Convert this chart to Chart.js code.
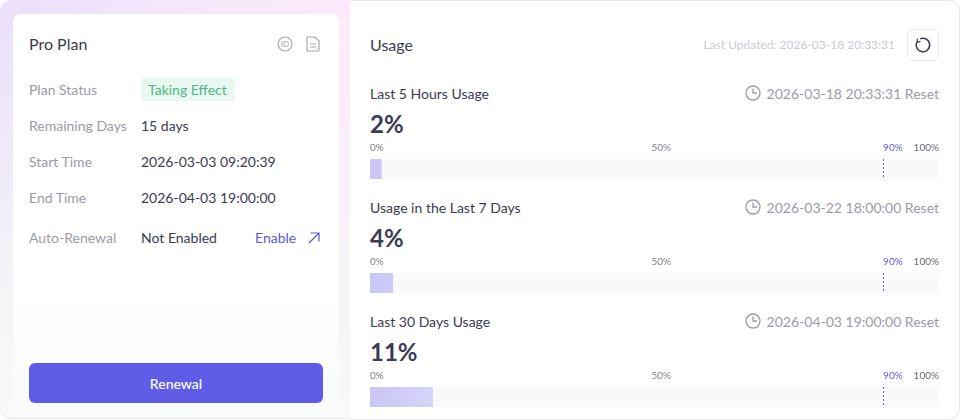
<!DOCTYPE html>
<html>
<head>
<meta charset="utf-8">
<title>Usage</title>
<script src="https://cdn.jsdelivr.net/npm/chart.js@4/dist/chart.umd.min.js"></script>
<style>
html, body { margin: 0; padding: 0; background: #fff; }
body { width: 960px; height: 420px; overflow: hidden; position: relative; font-family: Lato, sans-serif; color: #3b3b52; }
.abs { position: absolute; white-space: nowrap; line-height: 20px; }
#leftBg { position: absolute; left: 0; top: 0; width: 360px; height: 419px; border-radius: 12px; box-sizing: border-box; border-bottom: 1px solid #e9e9eb;
  background: linear-gradient(180deg, rgba(248,248,249,0) 0%, rgba(246,246,248,0.55) 45%, rgba(246,246,247,1) 75%, #f9f9f9 100%), linear-gradient(90deg, #ebdffb 0%, #f5e6fb 50%, #fee9fb 100%); }
#card { position: absolute; left: 13px; top: 14px; width: 326px; height: 404px; border-radius: 8px;
  background: linear-gradient(180deg, #fff 0%, #fff 68%, #fafafb 100%); }
#panel { position: absolute; left: 350px; top: 0; width: 609px; height: 418px; background: #fff; border: 1px solid #e9e9eb; border-left: 0; border-radius: 0 12px 12px 0; }
.lbl { font-size: 14px; color: #9b9ba8; }
.val { font-size: 14px; color: #3b3b52; }
#badge { position: absolute; left: 141px; top: 78px; width: 94px; height: 23px; background: #e8f8f0; border-radius: 4px; }
#renew { position: absolute; left: 29px; top: 363px; width: 294px; height: 40px; border-radius: 6px; background: #5f5ce8; color: #fff; font-size: 14px; font-weight: 500; line-height: 41px; text-align: center; }
#refresh { position: absolute; left: 907px; top: 29px; width: 30px; height: 30px; border: 1px solid #ececee; border-radius: 6px; }
.chartBox { position: absolute; left: 360px; width: 590px; height: 40px; }
svg { position: absolute; overflow: visible; }
</style>
</head>
<body>
<div id="leftBg"></div>
<div id="card"></div>
<div id="panel"></div>

<div class="abs" style="left:29px;top:34px;font-size:16px;color:#3b3b52">Pro Plan</div>
<svg style="left:277px;top:36px" width="16" height="16" viewBox="0 0 16 16" fill="none" stroke="#a5a5b0" stroke-width="1.2"><circle cx="8" cy="8" r="7"/><text x="8" y="11" text-anchor="middle" font-size="8" stroke="none" fill="#a5a5b0" font-family="Lato">ID</text></svg>
<svg style="left:306px;top:36px" width="14" height="16" viewBox="0 0 14 16" fill="none" stroke="#a5a5b0" stroke-width="1.2"><path d="M1 2 Q1 1 2 1 H9 L13 5 V14 Q13 15 12 15 H2 Q1 15 1 14 Z"/><path d="M4 8 H10 M4 11 H10"/></svg>

<div class="abs lbl" style="left:29px;top:80px">Plan Status</div>
<div id="badge"></div>
<div class="abs" style="left:148px;top:80px;font-size:14px;color:#52b587">Taking Effect</div>
<div class="abs lbl" style="left:29px;top:116px">Remaining Days</div>
<div class="abs val" style="left:141px;top:116px">15 days</div>
<div class="abs lbl" style="left:29px;top:152px">Start Time</div>
<div class="abs val" style="left:141px;top:152px">2026-03-03 09:20:39</div>
<div class="abs lbl" style="left:29px;top:188px">End Time</div>
<div class="abs val" style="left:141px;top:188px">2026-04-03 19:00:00</div>
<div class="abs lbl" style="left:29px;top:228px">Auto-Renewal</div>
<div class="abs val" style="left:141px;top:228px">Not Enabled</div>
<div class="abs" style="left:255px;top:228px;font-size:14px;color:#5b5bd6">Enable</div>
<svg style="left:308px;top:232px" width="12" height="12" viewBox="0 0 12 12" fill="none" stroke="#5b5bd6" stroke-width="1.2"><path d="M1 11 L11 1 M2.5 1 H11 V9.5"/></svg>
<div id="renew">Renewal</div>

<div class="abs" style="left:370px;top:35px;font-size:16px;color:#3b3b52">Usage</div>
<div class="abs" id="updated" style="right:65px;top:35px;font-size:12px;color:#cbcbd3">Last Updated: 2026-03-18 20:33:31</div>
<div id="refresh"></div>
<svg style="left:915px;top:37px" width="16" height="16" viewBox="0 0 16 16" fill="none" stroke="#3b3b52" stroke-width="1.5"><path d="M5.2 1.9 A6.7 6.7 0 1 1 2.2 4.6"/><path d="M2.2 1.6 L2.4 4.9 L5.4 4.6" stroke-width="1.2"/></svg>

<div id="rows"></div>

<script>
// values
var usageTitles = ["Last 5 Hours Usage", "Usage in the Last 7 Days", "Last 30 Days Usage"];
var usageValues = [2, 4, 11];
var resetTimes = ["2026-03-18 20:33:31", "2026-03-22 18:00:00", "2026-04-03 19:00:00"];
var percentTicks = [0, 50, 90, 100];
var warnLevel = 90;
var trackValue = 100;

var warnColor = '#5b5bd6';

// Tick labels are placed one by one, the axis option can only align them all the same way.
var tickLabelsPlugin = {
    id: 'tickLabels',
    afterDraw: function (chart) {
        var ctx = chart.ctx;
        var scale = chart.scales.x;
        ctx.save();
        ctx.font = '10px Lato';
        ctx.textBaseline = 'middle';
        scale.ticks.forEach(function (tick) {
            var x = scale.getPixelForValue(tick.value);
            ctx.textAlign = 'left';
            ctx.fillStyle = '#82828e';
            if (tick.value === 100) {
                ctx.textAlign = 'right';
                ctx.fillStyle = '#6a6a78';
            } else if (tick.value === 50) {
                x = x - 3;
            } else if (tick.value === warnLevel) {
                x = x + 1;
                ctx.fillStyle = warnColor;
            }
            ctx.fillText(tick.label, x, 7.5);
        });
        ctx.restore();
    },
    afterDatasetsDraw: function (chart) {
        var ctx = chart.ctx;
        var x = Math.round(chart.scales.x.getPixelForValue(warnLevel)) + 1.5;
        ctx.save();
        ctx.strokeStyle = warnColor;
        ctx.lineWidth = 1;
        ctx.setLineDash([2, 2]);
        ctx.beginPath();
        ctx.moveTo(x, chart.chartArea.top);
        ctx.lineTo(x, chart.chartArea.bottom);
        ctx.stroke();
        ctx.restore();
    }
};

function BuildUsageChart(canvas, value) {
    var ctx = canvas.getContext('2d');
    var fill = ctx.createLinearGradient(10, 0, 80, 0);
    fill.addColorStop(0, '#c9c5f5');
    fill.addColorStop(1, '#d8d5fb');
    return new Chart(ctx, {
        type: 'bar',
        data: {
            labels: [''],
            datasets: [
                { data: [value], backgroundColor: fill, borderRadius: { topLeft: 3, bottomLeft: 3 }, borderSkipped: false, order: 1 },
                { data: [trackValue], backgroundColor: '#f9f9fa', order: 2 }
            ]
        },
        options: {
            indexAxis: 'y',
            responsive: false,
            animation: false,
            events: [],
            layout: { padding: { left: 10, right: 11, top: 19, bottom: 1 } },
            plugins: { legend: { display: false }, tooltip: { enabled: false } },
            datasets: { bar: { grouped: false, categoryPercentage: 1, barPercentage: 1 } },
            scales: {
                x: {
                    min: 0,
                    max: 100,
                    display: true,
                    grid: { display: false, drawTicks: false },
                    border: { display: false },
                    afterBuildTicks: function (axis) {
                        axis.ticks = percentTicks.map(function (v) { return { value: v }; });
                    },
                    afterFit: function (axis) { axis.height = 0; },
                    ticks: {
                        display: false,
                        callback: function (v) { return v + '%'; }
                    }
                },
                y: { display: false }
            }
        },
        plugins: [tickLabelsPlugin]
    });
}

var rows = document.getElementById('rows');
usageTitles.forEach(function (title, i) {
    var top = 114 * i;
    var row = document.createElement('div');
    row.innerHTML =
        '<div class="abs" style="left:370px;top:' + (84 + top) + 'px;font-size:14px;color:#3b3b52">' + title + '</div>' +
        '<svg style="left:745px;top:' + (85 + top) + 'px" width="16" height="16" viewBox="0 0 16 16" fill="none" stroke="#9b9ba8" stroke-width="1.3"><circle cx="8" cy="8" r="7"/><path d="M8 3.5 V8 H12"/></svg>' +
        '<div class="abs" style="right:21px;top:' + (84 + top) + 'px;font-size:14px;color:#9b9ba8">' + resetTimes[i] + ' Reset</div>' +
        '<div class="abs" style="left:370px;top:' + (114 + top) + 'px;font-size:24px;font-weight:700;color:#3b3b58">' + usageValues[i] + '%</div>' +
        '<div class="chartBox" style="top:' + (140 + top) + 'px"><canvas width="590" height="40" style="display:block;width:590px;height:40px"></canvas></div>';
    rows.appendChild(row);
    BuildUsageChart(row.querySelector('canvas'), usageValues[i]);
});
</script>
</body>
</html>
